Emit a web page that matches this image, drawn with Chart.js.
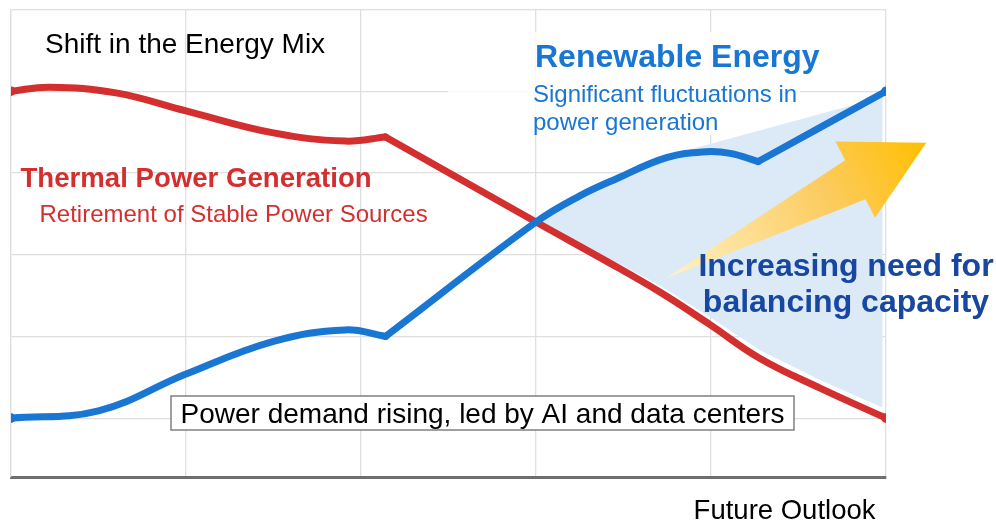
<!DOCTYPE html>
<html lang="en">
<head>
<meta charset="UTF-8">
<title>Shift in the Energy Mix</title>
<script src="https://cdn.jsdelivr.net/npm/chart.js"></script>
<style>
    html, body { margin: 0; padding: 0; background: #fff; }
    #wrap { width: 996px; height: 521px; }
</style>
</head>
<body>
<div id="wrap"><canvas id="mix" width="996" height="521"></canvas></div>
<script>
// timeline stages (0 = today ... 5 = future outlook) and level grid
const xTicks = [0, 1, 2, 3, 4, 5];
const yTicks = [0, 1, 2, 3, 4, 5];

// thermal power generation (index of the sharp corner in thermalBreaks)
const thermalX = [0, 0.22, 0.60, 1.00, 1.50, 1.91, 2.14, 3.00, 3.42, 3.71, 3.99, 4.28, 4.62, 5];
const thermalY = [4.00, 4.05, 3.98, 3.76, 3.49, 3.39, 3.44, 2.40, 1.90, 1.54, 1.15, 0.73, 0.37, 0];
const thermalBreaks = [6];

// renewable energy
const renewX = [0, 0.50, 1.00, 1.50, 1.91, 2.14, 3.00, 3.25, 3.46, 3.75, 3.97, 4.11, 4.27, 5];
const renewY = [0, 0.09, 0.54, 0.94, 1.08, 1.00, 2.40, 2.72, 2.93, 3.19, 3.26, 3.24, 3.14, 4.00];
const renewBreaks = [5, 12];

// balancing gap between the two (outline, clockwise from the crossing)
const gapX = [3.00, 3.25, 3.46, 3.75, 3.80, 4.98, 4.98, 4.62, 4.28, 3.99, 3.71, 3.42, 3.00];
const gapY = [2.40, 2.72, 2.93, 3.19, 3.24, 3.93, 0.13, 0.47, 0.83, 1.24, 1.62, 1.95, 2.40];

// "increasing need" arrow, tail and tip
const arrowFrom = [3.74, 1.71];
const arrowTo = [5.23, 3.37];

const RED = '#D32F2F';
const BLUE = '#1976D2';
const FONT = "'Liberation Sans', Arial, sans-serif";

// cut a series at its corners so each piece is smoothed on its own
function pieces(xs, ys, breaks) {
    const cuts = [0, ...breaks, xs.length - 1];
    const out = [];
    for (let i = 0; i < cuts.length - 1; i++) {
        const pts = [];
        for (let j = cuts[i]; j <= cuts[i + 1]; j++) pts.push({ x: xs[j], y: ys[j] });
        out.push(pts);
    }
    return out;
}

function seriesSets(label, xs, ys, breaks, color, order) {
    const parts = pieces(xs, ys, breaks);
    return parts.map((pts, k) => ({
        label: label,
        data: pts,
        borderColor: color,
        backgroundColor: color,
        borderWidth: 7,
        borderCapStyle: 'round',
        borderJoinStyle: 'round',
        tension: 0.4,
        fill: false,
        order: order,
        pointRadius: pts.map((p, i) =>
            (k === 0 && i === 0) || (k === parts.length - 1 && i === pts.length - 1) ? 4.8 : 0),
        pointBorderWidth: 0,
        pointHoverRadius: 0
    }));
}

const gapSet = {
    label: 'Balancing gap',
    data: gapX.map((x, i) => ({ x: x, y: gapY[i] })),
    borderColor: 'rgba(0,0,0,0)',
    borderWidth: 0,
    backgroundColor: '#DCE9F6',
    fill: 'shape',
    tension: 0,
    pointRadius: 0,
    order: 3
};

function txt(c, s, x, y, font, color, align) {
    c.font = font;
    c.fillStyle = color;
    c.textAlign = align || 'left';
    c.textBaseline = 'alphabetic';
    c.fillText(s, x, y);
}

const annotate = {
    id: 'annotate',
    beforeDatasetsDraw(chart) {
        // soft white box behind the renewable label
        const c = chart.ctx;
        c.save();
        c.fillStyle = 'rgba(255,255,255,0.8)';
        c.fillRect(448, 32, 352, 103);
        c.restore();
    },
    afterDatasetsDraw(chart) {
        const c = chart.ctx;
        const sx = chart.scales.x, sy = chart.scales.y;
        const p0 = { x: sx.getPixelForValue(arrowFrom[0]), y: sy.getPixelForValue(arrowFrom[1]) };
        const p1 = { x: sx.getPixelForValue(arrowTo[0]), y: sy.getPixelForValue(arrowTo[1]) };
        const len = Math.hypot(p1.x - p0.x, p1.y - p0.y);
        const ux = (p1.x - p0.x) / len, uy = (p1.y - p0.y) / len;
        const nx = -uy, ny = ux;
        const headLen = 80, headHalf = 43, shaftHalf = 22;
        const bx = p1.x - ux * headLen, by = p1.y - uy * headLen;

        c.save();
        const g = c.createLinearGradient(p0.x, p0.y, p1.x, p1.y);
        g.addColorStop(0, '#FFF2C8');
        g.addColorStop(0.62, '#FCCB5E');
        g.addColorStop(1, '#FFBF00');
        c.fillStyle = g;
        c.beginPath();
        c.moveTo(p0.x, p0.y);
        c.lineTo(bx - nx * shaftHalf, by - ny * shaftHalf);
        c.lineTo(bx - nx * headHalf, by - ny * headHalf);
        c.lineTo(p1.x, p1.y);
        c.lineTo(bx + nx * headHalf, by + ny * headHalf);
        c.lineTo(bx + nx * shaftHalf, by + ny * shaftHalf);
        c.closePath();
        c.fill();

        // demand box
        c.fillStyle = '#fff';
        c.fillRect(171, 396, 623, 34);
        c.strokeStyle = '#808080';
        c.lineWidth = 1.5;
        c.strokeRect(171, 396, 623, 34);
        c.restore();
    },
    afterDraw(chart) {
        const c = chart.ctx;
        c.save();
        txt(c, 'Shift in the Energy Mix', 45, 53, '28px ' + FONT, '#000');
        txt(c, 'Thermal Power Generation', 20.5, 187, 'bold 27.6px ' + FONT, RED);
        txt(c, 'Retirement of Stable Power Sources', 39.5, 222, '24px ' + FONT, RED);
        txt(c, 'Renewable Energy', 535, 67, 'bold 32px ' + FONT, BLUE);
        txt(c, 'Significant fluctuations in', 533, 102, '24px ' + FONT, BLUE);
        txt(c, 'power generation', 533, 130, '24px ' + FONT, BLUE);
        txt(c, 'Increasing need for', 846, 276, 'bold 32px ' + FONT, '#1747A0', 'center');
        txt(c, 'balancing capacity', 846, 312, 'bold 32px ' + FONT, '#1747A0', 'center');
        txt(c, 'Power demand rising, led by AI and data centers', 482.5, 423, '28px ' + FONT, '#000', 'center');
        txt(c, 'Future Outlook', 875.5, 519, '27.5px ' + FONT, '#000', 'right');
        c.restore();
    }
};

const gridStyle = { color: '#DFDFDF', lineWidth: 1.3, drawTicks: false };

new Chart(document.getElementById('mix'), {
    type: 'line',
    data: {
        datasets: [
            ...seriesSets('Renewable Energy', renewX, renewY, renewBreaks, BLUE, 1),
            ...seriesSets('Thermal Power Generation', thermalX, thermalY, thermalBreaks, RED, 2),
            gapSet
        ]
    },
    options: {
        responsive: false,
        devicePixelRatio: 1,
        animation: false,
        events: [],
        layout: { padding: { left: 11, right: 110, top: 9.5, bottom: 44 } },
        scales: {
            x: {
                type: 'linear',
                min: 0,
                max: 5,
                afterBuildTicks: a => { a.ticks = xTicks.map(v => ({ value: v })); },
                afterFit: s => { s.height = 0; },
                ticks: { display: false },
                grid: gridStyle,
                border: { color: '#6F6F6F', width: 3 }
            },
            y: {
                type: 'linear',
                min: -0.72,
                max: 5,
                afterBuildTicks: a => { a.ticks = yTicks.map(v => ({ value: v })); },
                afterFit: s => { s.width = 0; },
                ticks: { display: false },
                grid: gridStyle,
                border: { color: '#DFDFDF', width: 1.3 }
            }
        },
        plugins: {
            legend: { display: false },
            tooltip: { enabled: false }
        }
    },
    plugins: [annotate]
});
</script>
</body>
</html>
